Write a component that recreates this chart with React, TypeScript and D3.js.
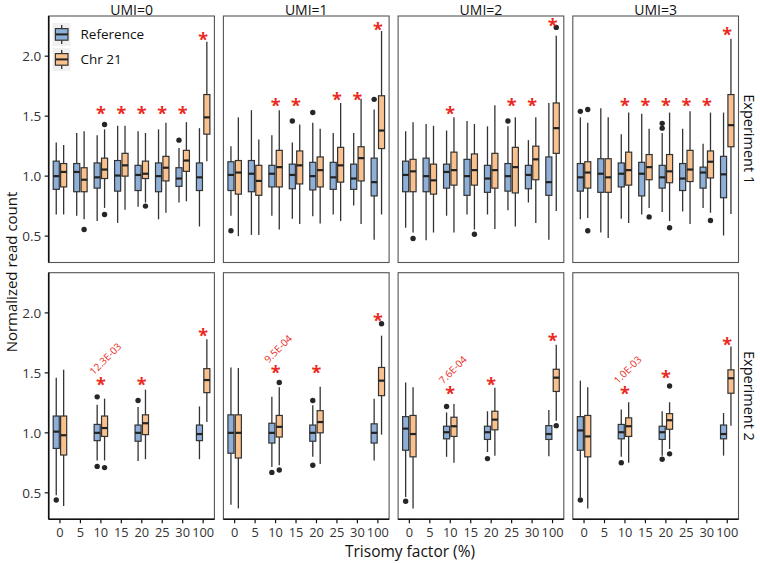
import React from 'react';
import * as d3 from 'd3';

const categories = ['0', '5', '10', '15', '20', '25', '30', '100'];
const umiLabels = ['UMI=0', 'UMI=1', 'UMI=2', 'UMI=3'];
const experiments = ['Experiment 1', 'Experiment 2'];
const seriesNames = ['Reference', 'Chr 21'];
const yTicks = [0.5, 1.0, 1.5, 2.0];
const pValues = ['12.3E-03', '9.5E-04', '7.6E-04', '1.0E-03'];

// [category, low whisker, q1, median, q3, high whisker], one list per UMI
type Box = [string, number, number, number, number, number];
type Pt = [number, string, number]; // [umi index, category, value]

const exp1Ref: Box[][] = [
  [['0', 0.68, 0.89, 1.0, 1.125, 1.28], ['5', 0.67, 0.87, 1.035, 1.105, 1.36], ['10', 0.625, 0.9, 0.99, 1.11, 1.34], ['15', 0.61, 0.875, 1.005, 1.13, 1.42],
   ['20', 0.745, 0.88, 1.01, 1.09, 1.375], ['25', 0.64, 0.87, 1.0, 1.11, 1.39], ['30', 0.78, 0.915, 0.98, 1.07, 1.235], ['100', 0.58, 0.88, 0.99, 1.11, 1.4]],
  [['0', 0.67, 0.88, 1.01, 1.12, 1.25], ['5', 0.51, 0.87, 1.02, 1.13, 1.55], ['10', 0.67, 0.91, 1.02, 1.09, 1.34], ['15', 0.645, 0.895, 1.01, 1.1, 1.28],
   ['20', 0.665, 0.885, 1.0, 1.115, 1.445], ['25', 0.68, 0.89, 0.99, 1.115, 1.36], ['30', 0.755, 0.89, 0.98, 1.1, 1.36], ['100', 0.47, 0.835, 0.95, 1.15, 1.555]],
  [['0', 0.57, 0.87, 1.01, 1.125, 1.375], ['5', 0.465, 0.87, 1.0, 1.15, 1.435], ['10', 0.67, 0.9, 1.035, 1.1, 1.38], ['15', 0.68, 0.84, 1.0, 1.14, 1.46],
   ['20', 0.68, 0.865, 0.98, 1.09, 1.415], ['25', 0.715, 0.875, 1.0, 1.105, 1.415], ['30', 0.78, 0.895, 1.01, 1.09, 1.3], ['100', 0.47, 0.84, 0.95, 1.16, 1.61]],
  [['0', 0.64, 0.875, 0.99, 1.105, 1.49], ['5', 0.53, 0.865, 1.02, 1.145, 1.565], ['10', 0.645, 0.91, 1.02, 1.11, 1.35], ['15', 0.68, 0.835, 1.02, 1.115, 1.52],
   ['20', 0.7, 0.9, 0.99, 1.09, 1.36], ['25', 0.705, 0.88, 0.98, 1.105, 1.395], ['30', 0.735, 0.9, 1.03, 1.075, 1.27], ['100', 0.505, 0.82, 1.015, 1.165, 1.53]],
];

const exp1Chr21: Box[][] = [
  [['0', 0.68, 0.91, 1.035, 1.105, 1.26], ['5', 0.64, 0.87, 0.97, 1.07, 1.375], ['10', 0.735, 0.98, 1.055, 1.15, 1.39], ['15', 0.72, 1.0, 1.09, 1.19, 1.42],
   ['20', 0.78, 0.98, 1.02, 1.125, 1.36], ['25', 0.695, 0.96, 1.07, 1.165, 1.445], ['30', 0.79, 1.04, 1.13, 1.215, 1.45], ['100', 1.125, 1.35, 1.49, 1.68, 2.12]],
  [['0', 0.5, 0.85, 1.03, 1.13, 1.49], ['5', 0.51, 0.84, 0.96, 1.09, 1.305], ['10', 0.555, 0.91, 1.075, 1.215, 1.55], ['15', 0.6, 0.935, 1.09, 1.21, 1.43],
   ['20', 0.605, 0.91, 1.05, 1.16, 1.395], ['25', 0.625, 0.95, 1.09, 1.24, 1.61], ['30', 0.6, 0.96, 1.15, 1.245, 1.645], ['100', 0.68, 1.23, 1.38, 1.67, 2.21]],
  [['0', 0.53, 0.87, 1.04, 1.14, 1.45], ['5', 0.53, 0.85, 0.965, 1.1, 1.42], ['10', 0.53, 0.925, 1.05, 1.2, 1.49], ['15', 0.555, 0.925, 1.05, 1.185, 1.435],
   ['20', 0.56, 0.9, 1.05, 1.19, 1.59], ['25', 0.58, 0.86, 1.075, 1.24, 1.49], ['30', 0.61, 0.97, 1.14, 1.25, 1.49], ['100', 0.71, 1.19, 1.4, 1.61, 2.17]],
  [['0', 0.65, 0.9, 1.03, 1.12, 1.445], ['5', 0.485, 0.865, 0.99, 1.145, 1.49], ['10', 0.61, 0.925, 1.05, 1.2, 1.53], ['15', 0.735, 0.97, 1.075, 1.18, 1.395],
   ['20', 0.625, 0.945, 1.04, 1.18, 1.53], ['25', 0.6, 0.955, 1.055, 1.215, 1.54], ['30', 0.695, 0.985, 1.12, 1.21, 1.53], ['100', 0.685, 1.245, 1.425, 1.68, 2.145]],
];

const exp2Ref: Box[][] = [
  [['0', 0.48, 0.87, 1.01, 1.14, 1.46], ['10', 0.77, 0.935, 1.0, 1.07, 1.235], ['20', 0.765, 0.93, 1.0, 1.065, 1.215], ['100', 0.78, 0.935, 0.99, 1.065, 1.22]],
  [['0', 0.4, 0.83, 1.0, 1.15, 1.545], ['10', 0.715, 0.915, 1.0, 1.08, 1.3], ['20', 0.8, 0.93, 1.0, 1.065, 1.23], ['100', 0.77, 0.915, 1.0, 1.075, 1.285]],
  [['0', 0.465, 0.855, 1.035, 1.135, 1.42], ['10', 0.8, 0.95, 1.005, 1.055, 1.17], ['20', 0.84, 0.945, 1.005, 1.055, 1.18], ['100', 0.805, 0.945, 0.99, 1.06, 1.19]],
  [['0', 0.465, 0.855, 1.02, 1.135, 1.435], ['10', 0.8, 0.95, 1.005, 1.07, 1.195], ['20', 0.81, 0.945, 1.005, 1.055, 1.18], ['100', 0.81, 0.95, 0.99, 1.065, 1.165]],
];

const exp2Chr21: Box[][] = [
  [['0', 0.39, 0.815, 0.98, 1.14, 1.525], ['10', 0.77, 0.97, 1.04, 1.14, 1.285], ['20', 0.78, 0.985, 1.08, 1.15, 1.36], ['100', 1.09, 1.335, 1.44, 1.535, 1.78]],
  [['0', 0.37, 0.79, 1.0, 1.15, 1.54], ['10', 0.73, 0.965, 1.05, 1.145, 1.38], ['20', 0.74, 1.0, 1.09, 1.185, 1.385], ['100', 0.985, 1.31, 1.435, 1.545, 1.81]],
  [['0', 0.37, 0.8, 0.99, 1.145, 1.38], ['10', 0.75, 0.97, 1.055, 1.13, 1.24], ['20', 0.81, 1.025, 1.11, 1.18, 1.375], ['100', 1.1, 1.345, 1.46, 1.53, 1.735]],
  [['0', 0.37, 0.8, 0.97, 1.145, 1.38], ['10', 0.75, 0.97, 1.055, 1.125, 1.255], ['20', 0.865, 1.03, 1.105, 1.16, 1.255], ['100', 1.06, 1.33, 1.455, 1.525, 1.72]],
];

const exp1RefOutliers: Pt[] = [
  [0, '30', 1.3], [1, '0', 0.545], [1, '15', 1.46], [1, '20', 1.53], [1, '100', 1.64],
  [2, '25', 1.46], [3, '0', 1.54], [3, '20', 1.44], [3, '20', 1.4],
];
const exp1Chr21Outliers: Pt[] = [
  [0, '5', 0.555], [0, '10', 1.43], [0, '10', 0.68], [0, '20', 0.75], [2, '0', 0.48], [2, '15', 0.515],
  [2, '100', 2.24], [3, '0', 1.555], [3, '0', 0.545], [3, '15', 0.66], [3, '20', 0.57], [3, '30', 0.63],
];
const exp2RefOutliers: Pt[] = [
  [0, '0', 0.44], [0, '10', 1.3], [0, '10', 0.72], [0, '20', 1.27], [1, '10', 0.67], [1, '20', 1.27], [1, '20', 0.73],
  [2, '0', 0.43], [2, '10', 1.22], [2, '20', 0.785], [3, '0', 0.44], [3, '10', 0.75], [3, '20', 0.78],
];
const exp2Chr21Outliers: Pt[] = [
  [0, '10', 0.71], [1, '10', 1.42], [1, '10', 0.69], [1, '100', 1.91], [2, '100', 1.06], [3, '20', 1.39], [3, '20', 0.825],
];

const exp1Stars: Pt[] = [
  [0, '10', 1.54], [0, '15', 1.54], [0, '20', 1.54], [0, '25', 1.54], [0, '30', 1.54], [0, '100', 2.16],
  [1, '10', 1.61], [1, '15', 1.61], [1, '25', 1.66], [1, '30', 1.66], [1, '100', 2.24],
  [2, '10', 1.54], [2, '25', 1.61], [2, '30', 1.61], [2, '100', 2.28],
  [3, '10', 1.61], [3, '15', 1.61], [3, '20', 1.61], [3, '25', 1.61], [3, '30', 1.61], [3, '100', 2.2],
];
const exp2Stars: Pt[] = [
  [0, '10', 1.42], [0, '20', 1.42], [0, '100', 1.83],
  [1, '10', 1.52], [1, '20', 1.52], [1, '100', 1.96],
  [2, '10', 1.345], [2, '20', 1.42], [2, '100', 1.79],
  [3, '10', 1.345], [3, '20', 1.48], [3, '100', 1.755],
];

const W = 760;
const H = 563;
const panelLeft = 48.7;
const panelW = 165.7;
const panelGap = 9;
const rowTops = [16, 272.7];
const panelH = 246.5;
const font = '"Open Sans", "DejaVu Sans", sans-serif';
const fills = ['#8eafd8', '#f9c18e'];
const ink = '#333';
const red = '#ea2a22';

const rows = [
  { ref: exp1Ref, chr: exp1Chr21, refOut: exp1RefOutliers, chrOut: exp1Chr21Outliers, stars: exp1Stars },
  { ref: exp2Ref, chr: exp2Chr21, refOut: exp2RefOutliers, chrOut: exp2Chr21Outliers, stars: exp2Stars },
];

const dodge = d3.scaleBand<string>().domain(seriesNames).range([-7.4, 7.4]);
const boxW = dodge.bandwidth() * 0.82;

function BoxMark({ b, cx, y, fill }: { b: Box; cx: number; y: d3.ScaleLinear<number, number>; fill: string }) {
  const [, lo, q1, med, q3, hi] = b;
  return (
    <g>
      <line x1={cx} x2={cx} y1={y(hi)} y2={y(lo)} stroke={ink} strokeWidth={1.3} />
      <rect x={cx - boxW / 2} y={y(q3)} width={boxW} height={y(q1) - y(q3)} fill={fill} stroke={ink} strokeWidth={1.2} />
      <line x1={cx - boxW / 2} x2={cx + boxW / 2} y1={y(med)} y2={y(med)} stroke="#222" strokeWidth={2.2} />
    </g>
  );
}

export default function App() {
  return (
    <svg width={W} height={H} style={{ position: 'absolute', left: 0, top: 0, background: '#fff' }} fontFamily={font}>
      {rows.map((row, r) => {
        const top = rowTops[r];
        const y = d3.scaleLinear().domain([0.28, 2.335]).range([top + panelH, top]);
        return umiLabels.map((umi, c) => {
          const left = panelLeft + c * (panelW + panelGap);
          const x = d3.scalePoint<string>().domain(categories).range([left, left + panelW]).padding(0.55);
          return (
            <g key={`${r}-${c}`}>
              <rect x={left} y={top} width={panelW} height={panelH} fill="#fff" stroke="#555" strokeWidth={1.1} />
              {c === 0 && <line x1={left} x2={left} y1={top} y2={top + panelH} stroke="#111" strokeWidth={1.6} />}
              {r === 1 && <line x1={left} x2={left + panelW} y1={top + panelH} y2={top + panelH} stroke="#111" strokeWidth={1.6} />}
              {c === 0 && yTicks.map(t => (
                <g key={t}>
                  <line x1={left - 4} x2={left} y1={y(t)} y2={y(t)} stroke="#111" strokeWidth={1.2} />
                  <text x={left - 7.5} y={y(t) + 4.7} textAnchor="end" fontSize={13.5} fill={ink}>{t.toFixed(1)}</text>
                </g>
              ))}
              {r === 1 && categories.map(cat => (
                <g key={cat}>
                  <line x1={x(cat)} x2={x(cat)} y1={top + panelH} y2={top + panelH + 4} stroke="#111" strokeWidth={1.2} />
                  <text x={x(cat)} y={top + panelH + 18} textAnchor="middle" fontSize={12.8} fill={ink}>{cat}</text>
                </g>
              ))}
              {r === 0 && (
                <text x={left + panelW / 2} y={15} textAnchor="middle" fontSize={14} fill="#111">{umi}</text>
              )}
              {row.ref[c].map(b => (
                <BoxMark key={'r' + b[0]} b={b} cx={x(b[0])! + dodge('Reference')! + dodge.bandwidth() / 2} y={y} fill={fills[0]} />
              ))}
              {row.chr[c].map(b => (
                <BoxMark key={'c' + b[0]} b={b} cx={x(b[0])! + dodge('Chr 21')! + dodge.bandwidth() / 2} y={y} fill={fills[1]} />
              ))}
              {row.refOut.filter(o => o[0] === c).map((o, i) => (
                <circle key={'ro' + i} cx={x(o[1])! + dodge('Reference')! + dodge.bandwidth() / 2} cy={y(o[2])} r={2.7} fill="#262626" />
              ))}
              {row.chrOut.filter(o => o[0] === c).map((o, i) => (
                <circle key={'co' + i} cx={x(o[1])! + dodge('Chr 21')! + dodge.bandwidth() / 2} cy={y(o[2])} r={2.7} fill="#262626" />
              ))}
              {row.stars.filter(s => s[0] === c).map((s, i) => (
                <text key={'s' + i} x={x(s[1])} y={y(s[2]) + 9} textAnchor="middle" fontSize={18} fontWeight="bold" fill={red}>*</text>
              ))}
              {r === 1 && (() => {
                const s = row.stars.find(st => st[0] === c && st[1] === '10')!;
                const px = x('10')! - 7;
                const py = y(s[2]) - 7;
                return (
                  <text x={px} y={py} transform={`rotate(-45 ${px} ${py})`} fontSize={10} fill={red}>{pValues[c]}</text>
                );
              })()}
              {c === 3 && (
                <text transform={`translate(744,${top + panelH / 2}) rotate(90)`} textAnchor="middle" fontSize={14.5} fill="#111">
                  {experiments[r]}
                </text>
              )}
            </g>
          );
        });
      })}
      {/* legend */}
      {seriesNames.map((s, i) => {
        const ky = 23 + i * 25;
        const cx = 61.7;
        return (
          <g key={s}>
            <rect x={52.5} y={ky} width={18} height={23} fill="#f0f0f0" />
            <line x1={cx} x2={cx} y1={ky + 2} y2={ky + 21} stroke={ink} strokeWidth={1.3} />
            <rect x={55.4} y={ky + 5.6} width={12.6} height={11.6} fill={fills[i]} stroke={ink} strokeWidth={1.2} />
            <line x1={55.4} x2={68} y1={ky + 11.4} y2={ky + 11.4} stroke="#222" strokeWidth={2} />
            <text x={80.5} y={ky + 16} fontSize={13.5} fill="#111">{s}</text>
          </g>
        );
      })}
      <text transform="translate(16.5,272) rotate(-90)" textAnchor="middle" fontSize={15} fill="#111">Normalized read count</text>
      <text x={410} y={557} textAnchor="middle" fontSize={15.5} fill="#111">Trisomy factor (%)</text>
    </svg>
  );
}
